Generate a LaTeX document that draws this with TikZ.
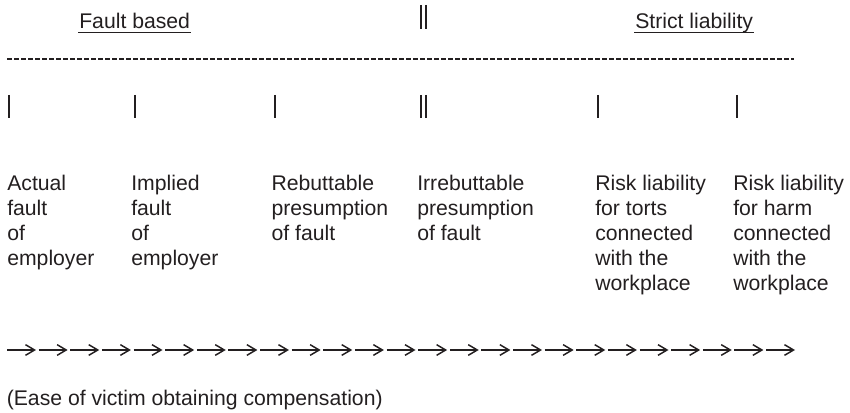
\documentclass[tikz,border=0pt]{standalone}
\usepackage{fontspec}
\setmainfont{Liberation Sans}
\usetikzlibrary{arrows.meta}
\definecolor{ink}{HTML}{231F20}
\begin{document}
\begin{tikzpicture}[x=0.75pt,y=0.75pt,yscale=-1,xscale=1,
	txt/.style={anchor=base west,inner sep=0.75pt,align=left,text=ink,font=\fontsize{15.9}{18.75}\selectfont},
	bar/.style={draw=ink,line width=1.3pt},
	arr/.style={draw=ink,line width=0.8pt,-{Straight Barb[length=6.8pt,width=8pt,line width=1.1pt]}}]
	\useasboundingbox (0,0) rectangle (850,413);

	\draw (78,29) node [txt] (fault) {Fault based};
	\draw (634,29) node [txt] (strict) {Strict liability};
	\draw [ink,line width=0.75pt] ([yshift=2.3pt]fault.base west) -- ([yshift=2.3pt]fault.base east);
	\draw [ink,line width=0.75pt] ([yshift=2.3pt]strict.base west) -- ([yshift=2.3pt]strict.base east);
	\draw [bar] (420.7,5) -- (420.7,29);
	\draw [bar] (425.7,5) -- (425.7,29);

	\draw [ink,line width=1.3pt,dash pattern=on 3.75pt off 1.5pt] (7,59) -- (794,59);

	\foreach \bx in {9,135,275,420.7,425.7,598,737}
		\draw [bar] (\bx,95) -- (\bx,118);

	\draw (6,265.7) node [txt] (actual) {Actual\\fault\\of\\employer};
	\draw (130,265.7) node [txt] (implied) {Implied\\fault\\of\\employer};
	\draw (270.3,240.7) node [txt] (rebut) {Rebuttable\\presumption\\of fault};
	\draw (416,240.7) node [txt] (irrebut) {Irrebuttable\\presumption\\of fault};
	\draw (594,290.7) node [txt] (torts) {Risk liability\\for torts\\connected\\with the\\workplace};
	\draw (732,290.7) node [txt] (harm) {Risk liability\\for harm\\connected\\with the\\workplace};

	\foreach \i in {0,...,24}
		\draw [arr] ({7+31.625*\i},350) -- ++(29,0);

	\draw (5.5,406) node [txt] (ease) {(Ease of victim obtaining compensation)};
\end{tikzpicture}
\end{document}
